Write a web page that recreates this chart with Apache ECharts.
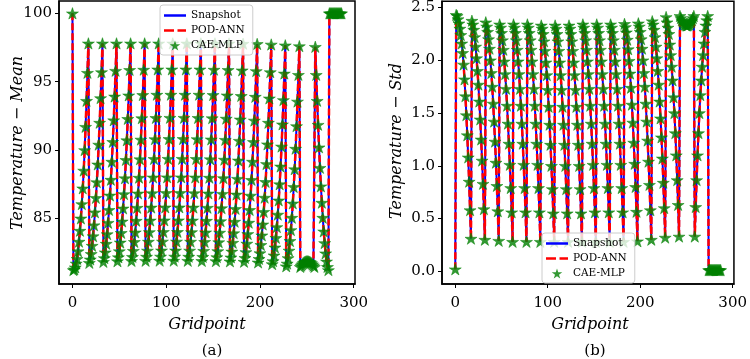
<!DOCTYPE html>
<html><head><meta charset="utf-8">
<script src="https://cdn.jsdelivr.net/npm/echarts@6/dist/echarts.min.js"></script>
<style>html,body{margin:0;padding:0;background:#fff}#c{width:750px;height:359px}</style>
</head><body><div id="c"></div>
<script>
// ---- Temperature mean per gridpoint (index = gridpoint) ----
const meanValues = [
  100,
  81.22, 81.28, 81.42, 81.7, 82.04, 82.6, 83.3, 84.1, 85.0, 86.05, 87.2, 88.5, 90.0, 91.7, 93.6, 95.65, 97.8,
  81.75, 82.0, 82.4, 83.0, 83.7, 84.5, 85.45, 86.5, 87.65, 88.95, 90.4, 92.0, 93.8, 95.7, 97.8,
  81.82, 82.1, 82.52, 83.15, 83.85, 84.68, 85.62, 86.68, 87.83, 89.15, 90.6, 92.18, 93.92, 95.8, 97.8,
  81.87, 82.16, 82.6, 83.24, 83.94, 84.78, 85.73, 86.78, 87.94, 89.28, 90.72, 92.28, 94.0, 95.86, 97.8,
  81.89, 82.19, 82.63, 83.28, 83.98, 84.83, 85.78, 86.83, 87.98, 89.33, 90.77, 92.33, 94.03, 95.88, 97.8,
  81.9, 82.2, 82.65, 83.3, 84.0, 84.85, 85.8, 86.85, 88.0, 89.35, 90.8, 92.35, 94.05, 95.9, 97.8,
  81.91, 82.21, 82.66, 83.31, 84.01, 84.86, 85.81, 86.86, 88.01, 89.36, 90.81, 92.36, 94.05, 95.9, 97.8,
  81.91, 82.21, 82.66, 83.31, 84.01, 84.86, 85.81, 86.86, 88.01, 89.36, 90.81, 92.36, 94.05, 95.9, 97.8,
  81.9, 82.2, 82.65, 83.3, 84.0, 84.85, 85.8, 86.85, 88.0, 89.35, 90.8, 92.35, 94.05, 95.9, 97.8,
  81.89, 82.19, 82.63, 83.28, 83.98, 84.83, 85.78, 86.83, 87.98, 89.33, 90.78, 92.33, 94.03, 95.88, 97.8,
  81.88, 82.17, 82.61, 83.26, 83.96, 84.8, 85.75, 86.8, 87.95, 89.3, 90.75, 92.3, 94.0, 95.86, 97.8,
  81.86, 82.15, 82.58, 83.22, 83.92, 84.76, 85.7, 86.75, 87.9, 89.24, 90.68, 92.24, 93.96, 95.83, 97.78,
  81.83, 82.11, 82.54, 83.16, 83.86, 84.69, 85.62, 86.67, 87.82, 89.15, 90.59, 92.16, 93.9, 95.78, 97.76,
  81.78, 82.04, 82.46, 83.06, 83.76, 84.56, 85.48, 86.52, 87.67, 88.98, 90.42, 92.0, 93.78, 95.7, 97.72,
  81.66, 81.88, 82.3, 82.88, 83.58, 84.37, 85.28, 86.32, 87.5, 88.8, 90.26, 91.88, 93.66, 95.6, 97.66,
  81.5, 81.7, 82.1, 82.65, 83.35, 84.15, 85.05, 86.1, 87.3, 88.6, 90.1, 91.75, 93.55, 95.5, 97.6,
  81.45, 81.55, 81.64, 81.72, 81.78, 81.82, 81.85, 81.86, 81.86, 81.85, 81.82, 81.78, 81.72, 81.64, 81.55, 81.45,
  97.55, 95.5, 93.6, 91.85, 90.2, 88.7, 87.35, 86.15, 85.05, 84.05, 83.2, 82.45, 81.85, 81.45, 81.22,
  100, 100, 100, 100, 100, 100, 100, 100, 100, 100, 100, 100, 100, 100
];
// ---- Temperature standard deviation per gridpoint ----
const stdValues = [
  0.02,
  2.43, 2.42, 2.39, 2.35, 2.30, 2.24, 2.16, 2.07, 1.96, 1.82, 1.66, 1.48, 1.29, 1.08, 0.85, 0.58, 0.31,
  2.375, 2.34, 2.29, 2.22, 2.13, 2.02, 1.90, 1.77, 1.61, 1.44, 1.25, 1.05, 0.83, 0.59, 0.30,
  2.36, 2.32, 2.27, 2.20, 2.11, 2.00, 1.88, 1.75, 1.59, 1.42, 1.23, 1.03, 0.81, 0.57, 0.29,
  2.34, 2.31, 2.26, 2.19, 2.10, 1.99, 1.87, 1.73, 1.57, 1.40, 1.21, 1.01, 0.79, 0.56, 0.28,
  2.34, 2.31, 2.26, 2.19, 2.10, 1.99, 1.87, 1.73, 1.57, 1.40, 1.21, 1.01, 0.79, 0.56, 0.28,
  2.34, 2.31, 2.26, 2.19, 2.10, 1.99, 1.87, 1.73, 1.57, 1.40, 1.21, 1.01, 0.79, 0.56, 0.28,
  2.33, 2.30, 2.25, 2.18, 2.09, 1.98, 1.86, 1.72, 1.56, 1.39, 1.20, 1.00, 0.78, 0.55, 0.28,
  2.33, 2.30, 2.25, 2.18, 2.09, 1.98, 1.86, 1.72, 1.56, 1.39, 1.20, 1.00, 0.78, 0.55, 0.28,
  2.33, 2.30, 2.25, 2.18, 2.09, 1.98, 1.86, 1.72, 1.56, 1.39, 1.20, 1.00, 0.78, 0.55, 0.28,
  2.34, 2.31, 2.26, 2.19, 2.10, 1.99, 1.87, 1.73, 1.57, 1.40, 1.21, 1.01, 0.79, 0.56, 0.28,
  2.34, 2.31, 2.26, 2.19, 2.10, 1.99, 1.87, 1.73, 1.57, 1.40, 1.21, 1.01, 0.79, 0.56, 0.28,
  2.34, 2.31, 2.26, 2.19, 2.10, 1.99, 1.87, 1.73, 1.57, 1.40, 1.21, 1.01, 0.79, 0.56, 0.28,
  2.345, 2.315, 2.265, 2.195, 2.105, 1.995, 1.875, 1.74, 1.58, 1.41, 1.22, 1.02, 0.80, 0.565, 0.285,
  2.35, 2.32, 2.27, 2.20, 2.11, 2.00, 1.88, 1.75, 1.59, 1.42, 1.24, 1.04, 0.82, 0.58, 0.30,
  2.37, 2.34, 2.29, 2.22, 2.13, 2.02, 1.90, 1.77, 1.61, 1.45, 1.27, 1.07, 0.84, 0.60, 0.32,
  2.41, 2.36, 2.31, 2.25, 2.15, 2.05, 1.94, 1.81, 1.65, 1.50, 1.31, 1.10, 0.865, 0.63, 0.33,
  2.42, 2.40, 2.38, 2.365, 2.35, 2.34, 2.335, 2.33, 2.33, 2.335, 2.34, 2.35, 2.365, 2.38, 2.40, 2.42,
  0.33, 0.61, 0.865, 1.10, 1.31, 1.50, 1.67, 1.81, 1.94, 2.05, 2.16, 2.27, 2.33, 2.38, 2.42,
  0.012, 0.012, 0.012, 0.012, 0.012, 0.012, 0.012, 0.012, 0.012, 0.012, 0.012, 0.012, 0.012, 0.012
];
const seriesNames = ['Snapshot', 'POD-ANN', 'CAE-MLP'];
const xTicks = [0, 100, 200, 300];
const meanTicks = [85, 90, 95, 100];
const stdTicks = [0, 0.5, 1.0, 1.5, 2.0, 2.5];
const panelCaptions = ['(a)', '(b)'];
const axisTitles = { x: 'Gridpoint', yMean: 'Temperature \u2212 Mean', yStd: 'Temperature \u2212 Std' };

const STAR = 'path://M50 0 L61.17 34.63 L97.55 34.55 L68.07 55.87 L79.39 90.45 L50 69 L20.61 90.45 L31.93 55.87 L2.45 34.55 L38.83 34.63 Z';
const ICON_SOLID = 'path://M0 0 H22 V2.5 H0 Z';
const ICON_DASH = 'path://M0 0 H10 V2.5 H0 Z M13.5 0 H22 V2.5 H13.5 Z';
const FONT = 'DejaVu Serif';

function pairs(arr) { return arr.map((v, i) => [i, v]); }

function xAxisCfg(gi) {
  return {
    type: 'value', gridIndex: gi, min: -14.35, max: 301.35,
    axisLine: { show: true, onZero: false, lineStyle: { color: '#000', width: 1.5 } },
    splitLine: { show: false },
    axisTick: { show: true, length: 4, customValues: xTicks, lineStyle: { color: '#000', width: 1 } },
    axisLabel: { customValues: xTicks, margin: 12, color: '#000', fontFamily: FONT, fontSize: 15 }
  };
}
function yAxisCfg(gi, min, max, ticks, fmt) {
  return {
    type: 'value', gridIndex: gi, min: min, max: max,
    axisLine: { show: true, onZero: false, lineStyle: { color: '#000', width: 1.5 } },
    splitLine: { show: false },
    axisTick: { show: true, length: 4, customValues: ticks, lineStyle: { color: '#000', width: 1 } },
    axisLabel: { customValues: ticks, margin: 7, color: '#000', fontFamily: FONT, fontSize: 15, formatter: fmt }
  };
}
function panelSeries(gi, values) {
  const d = pairs(values);
  return [
    { name: seriesNames[0], type: 'line', xAxisIndex: gi, yAxisIndex: gi, data: d, symbol: 'none',
      lineStyle: { color: '#0000ff', width: 2 }, itemStyle: { color: '#0000ff' }, z: 2 },
    { name: seriesNames[1], type: 'line', xAxisIndex: gi, yAxisIndex: gi, data: d, symbol: 'none',
      lineStyle: { color: '#ff0000', width: 2.5, type: [7, 3] }, itemStyle: { color: '#ff0000' }, z: 3 },
    { name: seriesNames[2], type: 'scatter', xAxisIndex: gi, yAxisIndex: gi, data: d, symbol: STAR,
      symbolSize: 12, symbolKeepAspect: true,
      itemStyle: { color: '#008000', borderColor: '#008000', borderWidth: 0.6 }, z: 4 }
  ];
}
function legendCfg(left, top) {
  return {
    data: [
      { name: seriesNames[0], icon: ICON_SOLID },
      { name: seriesNames[1], icon: ICON_DASH },
      { name: seriesNames[2], icon: STAR, itemStyle: { borderWidth: 0 } }
    ],
    z: 20,
    left: left, top: top, orient: 'vertical',
    padding: [5, 8, 4, 4], itemGap: 4, itemWidth: 22, itemHeight: 10,
    itemStyle: { borderWidth: 0 },
    backgroundColor: 'rgba(255,255,255,0.8)', borderColor: '#cccccc', borderWidth: 1, borderRadius: 3,
    textStyle: { fontFamily: FONT, fontSize: 10.5, color: '#000', lineHeight: 10 },
    selectedMode: false
  };
}

const chart = echarts.init(document.getElementById('c'), null, { renderer: 'canvas' });
chart.setOption({
  animation: false,
  backgroundColor: '#fff',
  grid: [
    { left: 59, top: 1, width: 296, height: 283, show: true, borderColor: '#000', borderWidth: 1.5, backgroundColor: 'transparent' },
    { left: 442, top: 1, width: 296, height: 283, show: true, borderColor: '#000', borderWidth: 1.5, backgroundColor: 'transparent' }
  ],
  xAxis: [xAxisCfg(0), xAxisCfg(1)],
  yAxis: [
    yAxisCfg(0, 80.2, 100.9, meanTicks, v => String(v)),
    yAxisCfg(1, -0.12, 2.56, stdTicks, v => Number(v).toFixed(1))
  ],
  legend: [legendCfg(160, 5), legendCfg(542, 233)],
  series: panelSeries(0, meanValues).concat(panelSeries(1, stdValues)),
  graphic: [
    { type: 'text', x: 207, y: 325, style: { text: axisTitles.x, fontFamily: FONT, fontStyle: 'italic', fontSize: 16, fill: '#000', textAlign: 'center', textVerticalAlign: 'middle' } },
    { type: 'text', x: 590, y: 325, style: { text: axisTitles.x, fontFamily: FONT, fontStyle: 'italic', fontSize: 16, fill: '#000', textAlign: 'center', textVerticalAlign: 'middle' } },
    { type: 'text', x: 18, y: 143, rotation: Math.PI / 2, style: { text: axisTitles.yMean, fontFamily: FONT, fontStyle: 'italic', fontSize: 16, fill: '#000', textAlign: 'center', textVerticalAlign: 'middle' } },
    { type: 'text', x: 397, y: 141, rotation: Math.PI / 2, style: { text: axisTitles.yStd, fontFamily: FONT, fontStyle: 'italic', fontSize: 16, fill: '#000', textAlign: 'center', textVerticalAlign: 'middle' } },
    { type: 'text', x: 212, y: 351, style: { text: panelCaptions[0], fontFamily: FONT, fontSize: 15, fill: '#000', textAlign: 'center', textVerticalAlign: 'middle' } },
    { type: 'text', x: 595, y: 351, style: { text: panelCaptions[1], fontFamily: FONT, fontSize: 15, fill: '#000', textAlign: 'center', textVerticalAlign: 'middle' } }
  ]
});
</script>
</body></html>
